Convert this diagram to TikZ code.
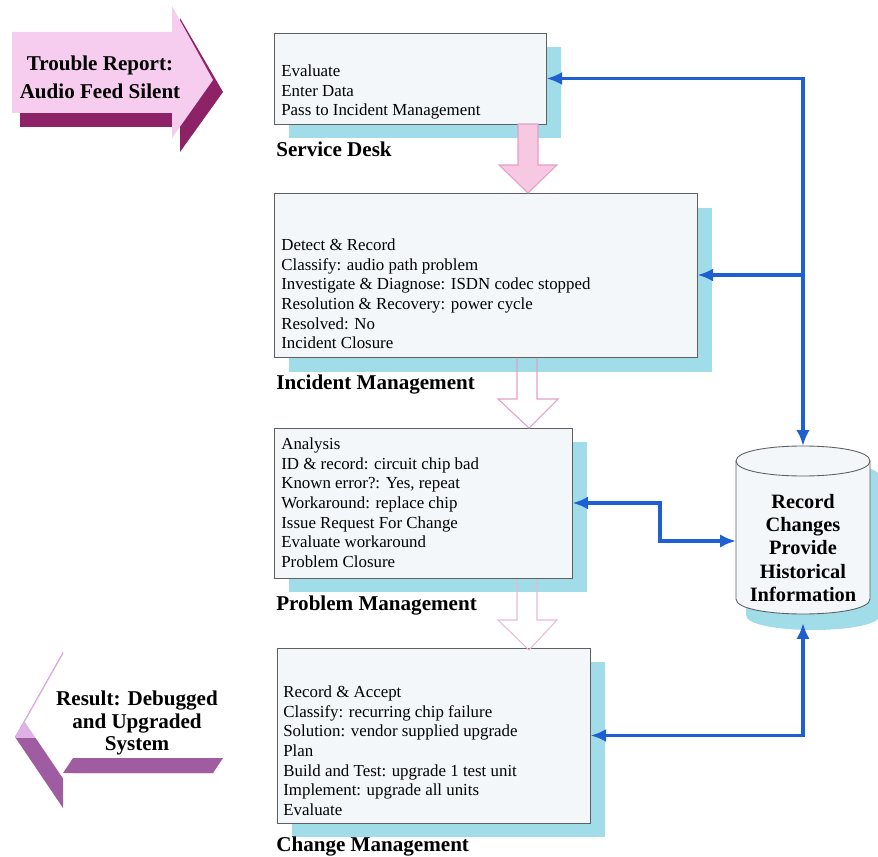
\documentclass[tikz,border=0pt]{standalone}
\usepackage{fontspec}
\setmainfont{Liberation Serif}
\usetikzlibrary{arrows.meta,calc}
\definecolor{shadowcyan}{RGB}{160,221,233}
\definecolor{boxfill}{RGB}{244,247,250}
\definecolor{boxline}{RGB}{95,95,95}
\definecolor{flowblue}{RGB}{30,95,210}
\definecolor{pinkfill}{RGB}{246,200,226}
\definecolor{pinkline}{RGB}{228,160,200}
\definecolor{plum}{RGB}{141,35,102}
\definecolor{pinkface}{RGB}{247,205,239}
\definecolor{purpleband}{RGB}{160,92,160}
\definecolor{lilacband}{RGB}{222,178,228}
\begin{document}
\begin{tikzpicture}[x=0.02cm,y=-0.02cm,
  procbox/.style={draw=boxline, line width=0.5pt, fill=boxfill, inner sep=0pt},
  shade/.style={fill=shadowcyan, draw=none},
  boxtext/.style={anchor=north west, inner sep=0pt, align=left, font=\fontsize{9.6}{11.2}\selectfont},
  boxtitle/.style={anchor=base west, inner sep=0pt, font=\fontsize{12}{14}\selectfont\bfseries},
  bigtext/.style={inner sep=0pt, align=center, font=\fontsize{12}{16}\selectfont\bfseries},
  conn/.style={draw=flowblue, line width=2.2pt, line join=miter, >={Latex[length=9pt,width=7.5pt]}},
  flowarrow/.style={draw=pinkline, line width=0.6pt},
]
\useasboundingbox (0,0) rectangle (878,857);

% ---------- left arrow: trouble report ----------
\fill[plum] (20,45) -- (180,45) -- (180,18) -- (223,92) -- (180,152) -- (180,127) -- (20,127) -- cycle;
\fill[pinkface] (12,32) -- (172,32) -- (172,6) -- (213,80) -- (172,138) -- (172,113) -- (12,113) -- cycle;
\node[bigtext] (trouble) at (100,77) {Trouble Report:\\Audio Feed Silent};

% ---------- left arrow: result ----------
\fill[purpleband] (15,737) -- (63,652) -- (63,690) -- (213,690) -- (213,773) -- (63,773) -- (63,808) -- cycle;
\begin{scope}
\clip (0,600) rectangle (75,737);
\fill[lilacband] (15,737) -- (63,652) -- (63,690) -- (213,690) -- (213,773) -- (63,773) -- (63,808) -- cycle;
\end{scope}
\fill[white] (25,722) -- (73,637) -- (73,675) -- (233,675) -- (233,758) -- (73,758) -- (73,793) -- cycle;
\fill[purpleband] (73,758) -- (223,758) -- (213,773) -- (63,773) -- cycle;
\node[inner sep=0pt, align=center, font=\fontsize{12}{12.8}\selectfont\bfseries] (result) at (137,723) {Result: Debugged\\and Upgraded\\System};

% ---------- shadows ----------
\fill[shade] (289,47) rectangle (561,138);
\fill[shade] (289,208) rectangle (712,372);
\fill[shade] (289,442) rectangle (587,592);
\fill[shade] (292,662) rectangle (605,837);

% ---------- process boxes ----------
\node[procbox, minimum width=5.44cm, minimum height=1.82cm] (sd) at (410,78.5) {};
\node[procbox, minimum width=8.46cm, minimum height=3.28cm] (im) at (485.5,275) {};
\node[procbox, minimum width=5.96cm, minimum height=3.0cm] (pm) at (423,503) {};
\node[procbox, minimum width=6.26cm, minimum height=3.5cm] (cm) at (433.5,735.5) {};

\node[boxtext] (sdtext) at (281,64.5) {Evaluate\\Enter Data\\Pass to Incident Management};
\node[boxtext] (imtext) at (281,238.5) {Detect \& Record\\Classify: audio path problem\\Investigate \& Diagnose: ISDN codec stopped\\Resolution \& Recovery: power cycle\\Resolved: No\\Incident Closure};
\node[boxtext] (pmtext) at (281,437.5) {Analysis\\ID \& record: circuit chip bad\\Known error?: Yes, repeat\\Workaround: replace chip\\Issue Request For Change\\Evaluate workaround\\Problem Closure};
\node[boxtext] (cmtext) at (283,685.5) {Record \& Accept\\Classify: recurring chip failure\\Solution: vendor supplied upgrade\\Plan\\Build and Test: upgrade 1 test unit\\Implement: upgrade all units\\Evaluate};

\node[boxtitle] (sdtitle) at (276,157) {Service Desk};
\node[boxtitle] (imtitle) at (276,390) {Incident Management};
\node[boxtitle] (pmtitle) at (276,610) {Problem Management};
\node[boxtitle] (cmtitle) at (276,851) {Change Management};

% ---------- pink flow arrows ----------
\filldraw[fill=pinkfill, draw=pinkline, line width=0.6pt] (518,124) -- (538,124) -- (538,165) -- (557,165) -- (528,193) -- (499,165) -- (518,165) -- cycle;
\draw[flowarrow] (517,358) -- (517,399) -- (498,399) -- (529,428) -- (558,399) -- (537,399) -- (537,358);
\draw[flowarrow, draw=pinkline!75] (517,579) -- (517,620) -- (498,620) -- (529,650) -- (557,620) -- (537,620) -- (537,579);

% ---------- database cylinder ----------
\fill[shade] (746,477) -- (746,615) .. controls (746,635) and (880,635) .. (880,615) -- (880,477) .. controls (880,457) and (746,457) .. (746,477) -- cycle;
\filldraw[fill=boxfill, draw=boxline, line width=0.5pt] (736,461) -- (736,599) .. controls (736,619) and (870,619) .. (870,599) -- (870,461) .. controls (870,441) and (736,441) .. (736,461) -- cycle;
\draw[boxline, line width=0.5pt] (736,461) .. controls (736,481) and (870,481) .. (870,461);
\node[inner sep=0pt, align=center, font=\fontsize{11.6}{13.3}\selectfont\bfseries] (db) at (803,548) {Record\\Changes\\Provide\\Historical\\Information};
\coordinate (dbtop) at (803,446);
\coordinate (dbbot) at (803,623);
\coordinate (dbleft) at (736,541);

% ---------- blue connectors ----------
\coordinate (bus) at (sd.east -| dbtop);
\draw[conn, <->] (sd.east) -- (bus) -- (dbtop);
\draw[conn, ->] (im.east -| bus) -- (im.east);
\draw[conn, <->] (pm.east) -- ++(88,0) |- (dbleft);
\draw[conn, <->] (cm.east) -| (dbbot);
\end{tikzpicture}
\end{document}
